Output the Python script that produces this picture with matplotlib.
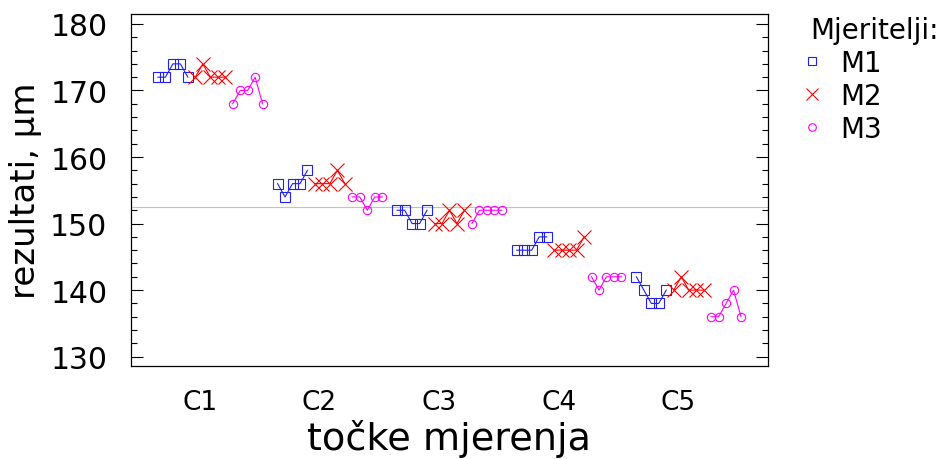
import numpy as np
import matplotlib
matplotlib.use("Agg")
import matplotlib.pyplot as plt
from matplotlib.lines import Line2D

plt.rcParams['font.family'] = ['DejaVu Sans']

# measuring points and operators
parts = ['C1', 'C2', 'C3', 'C4', 'C5']
operators = ['M1', 'M2', 'M3']

# results per operator, 5 repeats for each part (um)
m1 = [[172, 172, 174, 174, 172],
      [156, 154, 156, 156, 158],
      [152, 152, 150, 150, 152],
      [146, 146, 146, 148, 148],
      [142, 140, 138, 138, 140]]
m2 = [[172, 174, 172, 172, 172],
      [156, 156, 156, 158, 156],
      [150, 150, 152, 150, 152],
      [146, 146, 146, 146, 148],
      [140, 142, 140, 140, 140]]
m3 = [[168, 170, 170, 172, 168],
      [154, 154, 152, 154, 154],
      [150, 152, 152, 152, 152],
      [142, 140, 142, 142, 142],
      [136, 136, 138, 140, 136]]

results = [m1, m2, m3]
colors = ['#1f1fff', '#ff0000', '#ff00ff']
markers = ['s', 'x', 'o']
msizes = [6.5, 10, 6]
leg_sizes = [5.5, 8, 5.5]

grand_mean = np.mean(np.array(results))

fig = plt.figure(figsize=(9.38, 4.6), dpi=100)
ax = fig.add_axes([0.1397, 0.2015, 0.679, 0.766])

n_rep = 5
for i in range(len(parts)):
    for j in range(len(operators)):
        vals = results[j][i]
        x = i * 16 + j * n_rep + np.arange(n_rep)
        ax.plot(x, vals, color=colors[j], lw=0.8, marker=markers[j],
                ms=msizes[j], mfc='none', mec=colors[j], mew=0.8)

# grand mean of all measurements
ax.axhline(grand_mean, color='#a8d890', lw=0.8, zorder=0)

ax.set_xlim(-3.6, 81.6)
ax.set_ylim(128.55, 181.5)
ax.set_xticks([i * 16 + 5.6 for i in range(len(parts))])
ax.set_xticklabels(parts)
ax.set_yticks(np.arange(130, 181, 10))
ax.set_yticks(np.arange(130, 181, 2), minor=True)
ax.tick_params(axis='x', length=0, labelsize=19, pad=16)
ax.tick_params(axis='y', which='both', direction='in', left=True, right=True,
               labelsize=21.5, width=0.8)
ax.tick_params(axis='y', which='major', length=8.6, pad=17)
ax.tick_params(axis='y', which='minor', length=4.3)
for s in ax.spines.values():
    s.set_linewidth(0.9)

ax.set_xlabel('točke mjerenja', fontsize=27.5, labelpad=3)
ax.set_ylabel('rezultati, µm', fontsize=24.5, labelpad=6)

handles = [Line2D([], [], ls='none', marker=markers[j], ms=leg_sizes[j],
                  mfc='none', mec=colors[j], mew=0.8) for j in range(3)]
leg = ax.legend(handles, operators, title='Mjeritelji:', loc='upper left',
                bbox_to_anchor=(810 / 938, 1 - 17 / 460),
                bbox_transform=fig.transFigure, frameon=False,
                fontsize=20, title_fontsize=20, alignment='left',
                borderpad=0, borderaxespad=0, handlelength=0.15,
                handletextpad=0.95, labelspacing=0.18)

fig.savefig('out.png', dpi=100)
